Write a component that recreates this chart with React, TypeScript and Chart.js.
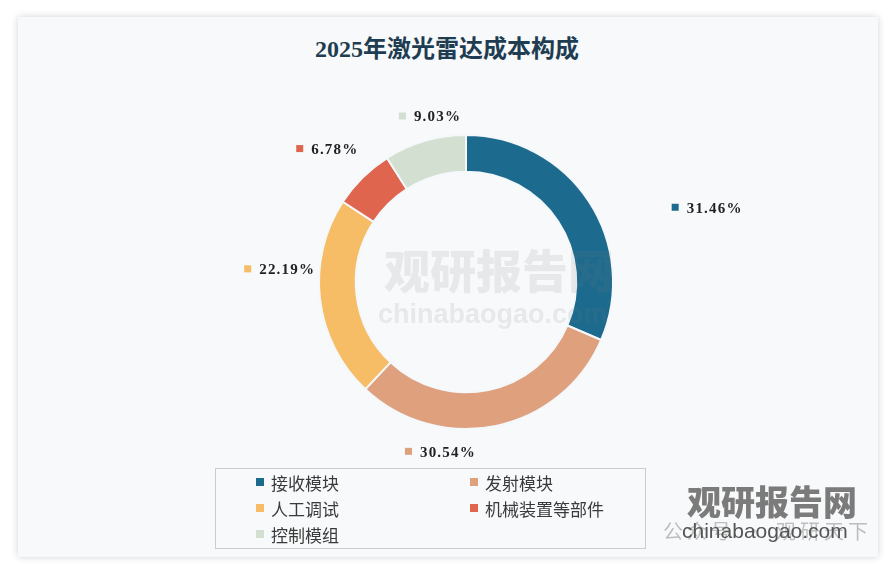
import React, { useEffect, useRef } from "react";
import { Chart, registerables } from "chart.js";

Chart.register(...registerables);

const TITLE = "2025年激光雷达成本构成";
const categories = ["接收模块", "发射模块", "人工调试", "机械装置等部件", "控制模组"];
const shares = [31.46, 30.54, 22.19, 6.78, 9.03];
const colors = ["#1c6a8e", "#dfa07e", "#f7bc66", "#e0654f", "#d3dfd1"];
// label nudges (px) from the default position on each slice's mid-angle
const labelNudges: [number, number][] = [
  [92, 24],
  [-62, -5],
  [-9, -34],
  [-13, -6],
  [14, 6],
];

const labelPlugin = {
  id: "sliceLabels",
  afterDatasetsDraw(chart: any) {
    const ctx = chart.ctx as CanvasRenderingContext2D;
    const meta = chart.getDatasetMeta(0);
    ctx.save();
    ctx.font = "bold 15px 'Liberation Serif', 'DejaVu Serif', serif";
    (ctx as any).letterSpacing = "1.2px";
    ctx.textBaseline = "middle";
    ctx.textAlign = "left";
    meta.data.forEach((arc: any, i: number) => {
      const p = arc.getProps(["x", "y", "startAngle", "endAngle", "outerRadius"], true);
      const mid = (p.startAngle + p.endAngle) / 2;
      const R = p.outerRadius * 1.215;
      const cx = p.x + Math.cos(mid) * R + labelNudges[i][0];
      const cy = p.y + Math.sin(mid) * R + labelNudges[i][1];
      const text = shares[i].toFixed(2) + "%";
      const tw = ctx.measureText(text).width;
      const gw = 7 + 8 + tw;
      const left = cx - gw / 2;
      ctx.fillStyle = colors[i];
      ctx.fillRect(left, cy - 4, 7, 7);
      ctx.fillStyle = "#222";
      ctx.fillText(text, left + 15, cy + 1);
    });
    ctx.restore();
  },
};

export default function App() {
  const ref = useRef<HTMLCanvasElement | null>(null);

  useEffect(() => {
    if (!ref.current) return;
    const chart = new Chart(ref.current, {
      type: "doughnut",
      data: {
        labels: categories,
        datasets: [
          {
            data: shares,
            backgroundColor: colors,
            borderColor: "#f4f8fa",
            borderWidth: 2,
          },
        ],
      },
      options: {
        responsive: false,
        animation: false,
        cutout: "75%",
        layout: { padding: { left: 318, right: 276, top: 134, bottom: 140 } },
        plugins: {
          legend: { display: false },
          tooltip: { enabled: false },
          title: { display: false },
        },
      },
      plugins: [labelPlugin],
    });
    return () => chart.destroy();
  }, []);

  const sansCJK = "'Noto Sans CJK SC', 'Noto Sans', sans-serif";

  return (
    <div
      style={{
        position: "absolute",
        left: 0,
        top: 0,
        width: 890,
        height: 570,
        background: "#ffffff",
        overflow: "hidden",
      }}
    >
      <div
        style={{
          position: "absolute",
          left: 18,
          top: 17,
          width: 860,
          height: 540,
          background: "#f7f9fa",
          boxShadow: "0 0 7px rgba(0,0,0,0.18)",
        }}
      />
      <div
        style={{
          position: "absolute",
          left: 0,
          width: 894,
          top: 33,
          textAlign: "center",
          fontFamily: "'Liberation Serif', 'Noto Sans CJK SC', serif",
          fontWeight: "bold",
          fontSize: 24,
          color: "#1f3d52",
          lineHeight: "32px",
        }}
      >
        {TITLE}
      </div>
      <canvas
        ref={ref}
        width={890}
        height={570}
        style={{ position: "absolute", left: 0, top: 0, width: 890, height: 570 }}
      />
      {/* faint centre watermark */}
      <div
        style={{
          position: "absolute",
          left: 384,
          top: 240,
          fontFamily: sansCJK,
          fontWeight: 900,
          fontSize: 46,
          color: "rgba(120,120,120,0.13)",
          lineHeight: "56px",
          pointerEvents: "none",
        }}
      >
        观研报告网
      </div>
      <div
        style={{
          position: "absolute",
          left: 378,
          top: 298,
          fontFamily: "'Liberation Sans', Arial, sans-serif",
          fontWeight: "bold",
          fontSize: 27,
          color: "rgba(120,120,120,0.13)",
          lineHeight: "32px",
          pointerEvents: "none",
        }}
      >
        chinabaogao.com
      </div>
      {/* legend */}
      <div
        style={{
          position: "absolute",
          left: 215,
          top: 468,
          width: 429,
          height: 79,
          border: "1px solid #c9cdd0",
          background: "transparent",
        }}
      />
      {categories.map((c, i) => {
        const col = i % 2;
        const row = Math.floor(i / 2);
        const left = col === 0 ? 256 : 470;
        const top = 482 + row * 26;
        return (
          <div
            key={c}
            style={{
              position: "absolute",
              left,
              top: top - 12,
              height: 24,
              display: "flex",
              alignItems: "center",
              fontFamily: sansCJK,
              fontSize: 17,
              color: "#3a3a3a",
              whiteSpace: "nowrap",
            }}
          >
            <span
              style={{
                display: "inline-block",
                width: 8,
                height: 8,
                background: colors[i],
                marginRight: 7,
              }}
            />
            {c}
          </div>
        );
      })}
      {/* bottom-right watermark */}
      <div
        style={{
          position: "absolute",
          left: 687,
          top: 480,
          fontFamily: sansCJK,
          fontWeight: 900,
          fontSize: 34,
          color: "#7b7b7b",
          lineHeight: "42px",
          pointerEvents: "none",
        }}
      >
        观研报告网
      </div>
      <div
        style={{
          position: "absolute",
          left: 663,
          top: 518,
          fontFamily: sansCJK,
          fontSize: 20,
          color: "rgba(150,150,150,0.6)",
          lineHeight: "26px",
          letterSpacing: 4,
          pointerEvents: "none",
        }}
      >
        公众号 · 观研天下
      </div>
      <div
        style={{
          position: "absolute",
          left: 682,
          top: 518,
          fontFamily: "'Liberation Sans', Arial, sans-serif",
          fontSize: 21,
          color: "#555",
          lineHeight: "26px",
          pointerEvents: "none",
        }}
      >
        chinabaogao.com
      </div>
    </div>
  );
}
